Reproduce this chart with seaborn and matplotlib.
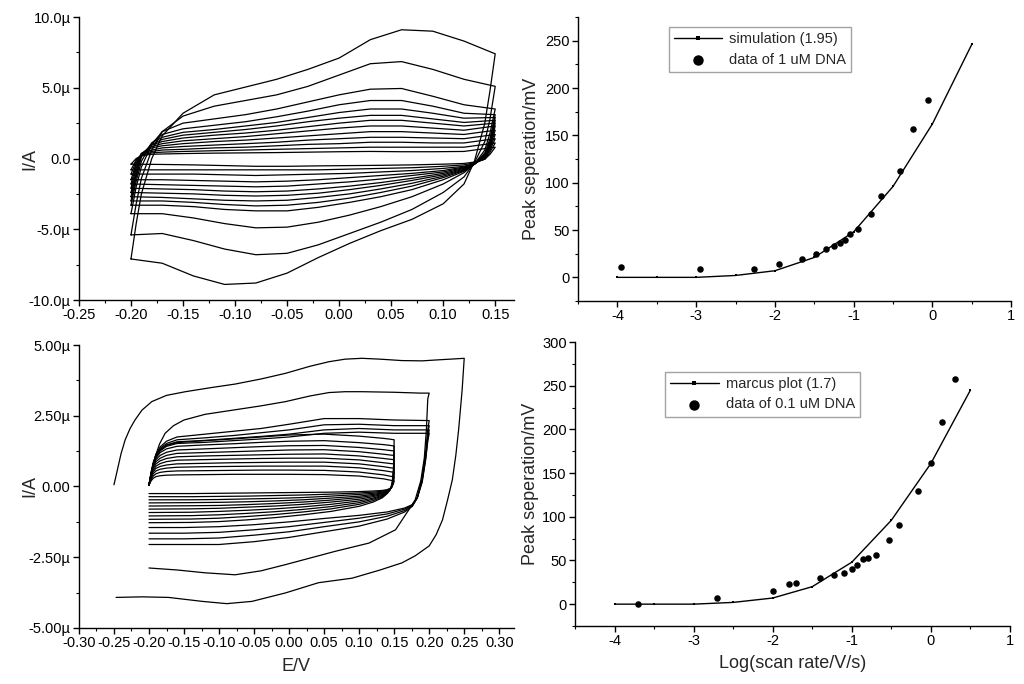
import pandas as pd
import seaborn as sns
import matplotlib.pyplot as plt
from matplotlib.ticker import MultipleLocator, FuncFormatter

sns.set_theme(style="ticks")
plt.rcParams['font.family'] = ['Liberation Sans', 'DejaVu Sans']
plt.rcParams['axes.unicode_minus'] = False

# ---------------- top-left CVs (uA) ----------------
tl_e_fwd = [-0.200, -0.195, -0.190, -0.180, -0.170, -0.150, -0.120, -0.090,
            -0.060, -0.030, 0.000, 0.030, 0.060, 0.090, 0.120, 0.150]
tl_e_rev = [0.150, 0.145, 0.140, 0.130, 0.120, 0.100, 0.070, 0.040,
            0.010, -0.020, -0.050, -0.080, -0.110, -0.140, -0.170, -0.200]
tl_i_fwd = [
    [-7.1, -4.6, -2.5, 0.0, 1.6, 3.2, 4.5, 5.05, 5.6, 6.3, 7.1, 8.4, 9.1, 9.0, 8.3, 7.4],
    [-5.4, -3.2, -1.4, 0.6, 1.9, 3.0, 3.7, 4.1, 4.5, 5.1, 5.9, 6.7, 6.85, 6.3, 5.6, 5.1],
    [-3.9, -2.0, -0.6, 1.0, 1.9, 2.5, 2.8, 3.1, 3.5, 4.0, 4.5, 4.9, 4.95, 4.4, 3.8, 3.5],
    [-3.3, -1.6, -0.2, 1.1, 1.7, 2.1, 2.35, 2.6, 2.95, 3.35, 3.8, 4.1, 4.1, 3.7, 3.2, 3.1],
    [-3.0, -1.3, 0.1, 1.1, 1.5, 1.85, 2.05, 2.3, 2.55, 2.9, 3.25, 3.5, 3.5, 3.2, 2.85, 2.9],
    [-2.7, -1.1, 0.2, 1.0, 1.35, 1.65, 1.85, 2.05, 2.3, 2.6, 2.85, 3.05, 3.05, 2.8, 2.55, 2.7],
    [-2.4, -0.9, 0.3, 0.95, 1.2, 1.45, 1.65, 1.8, 2.0, 2.25, 2.5, 2.7, 2.7, 2.5, 2.3, 2.5],
    [-2.1, -0.7, 0.35, 0.85, 1.05, 1.25, 1.4, 1.55, 1.75, 1.95, 2.15, 2.3, 2.3, 2.15, 2.0, 2.3],
    [-1.8, -0.5, 0.35, 0.75, 0.9, 1.05, 1.2, 1.3, 1.45, 1.6, 1.75, 1.9, 1.9, 1.8, 1.7, 2.0],
    [-1.5, -0.35, 0.35, 0.6, 0.75, 0.85, 0.95, 1.05, 1.15, 1.3, 1.4, 1.5, 1.5, 1.45, 1.4, 1.7],
    [-1.1, -0.2, 0.3, 0.5, 0.6, 0.65, 0.75, 0.8, 0.9, 1.0, 1.05, 1.15, 1.15, 1.1, 1.1, 1.4],
    [-0.8, -0.1, 0.25, 0.4, 0.45, 0.5, 0.55, 0.6, 0.65, 0.7, 0.75, 0.8, 0.8, 0.8, 0.8, 1.1],
    [-0.4, 0.0, 0.2, 0.3, 0.32, 0.35, 0.38, 0.4, 0.42, 0.45, 0.48, 0.5, 0.48, 0.48, 0.5, 0.8],
]
tl_i_rev = [
    [7.4, 4.8, 2.5, -0.2, -1.8, -3.2, -4.3, -5.1, -6.0, -7.0, -8.1, -8.8, -8.9, -8.3, -7.4, -7.1],
    [5.1, 2.8, 1.2, -0.3, -1.3, -2.4, -3.6, -4.5, -5.3, -6.1, -6.7, -6.8, -6.4, -5.8, -5.3, -5.4],
    [3.5, 1.8, 0.6, -0.4, -1.0, -1.8, -2.7, -3.4, -4.0, -4.5, -4.85, -4.9, -4.6, -4.2, -3.9, -3.9],
    [3.1, 1.4, 0.4, -0.4, -0.9, -1.5, -2.2, -2.7, -3.1, -3.45, -3.7, -3.7, -3.6, -3.4, -3.3, -3.3],
    [2.9, 1.2, 0.3, -0.4, -0.85, -1.35, -1.95, -2.4, -2.8, -3.1, -3.3, -3.35, -3.25, -3.1, -3.0, -3.0],
    [2.7, 1.1, 0.25, -0.4, -0.8, -1.25, -1.75, -2.15, -2.5, -2.75, -2.95, -3.0, -2.95, -2.85, -2.75, -2.7],
    [2.5, 1.0, 0.2, -0.4, -0.75, -1.15, -1.55, -1.9, -2.2, -2.45, -2.6, -2.65, -2.6, -2.5, -2.45, -2.4],
    [2.3, 0.9, 0.15, -0.4, -0.7, -1.05, -1.4, -1.7, -1.95, -2.15, -2.3, -2.35, -2.3, -2.2, -2.15, -2.1],
    [2.0, 0.8, 0.1, -0.4, -0.65, -0.95, -1.2, -1.45, -1.65, -1.8, -1.95, -2.0, -1.95, -1.9, -1.85, -1.8],
    [1.7, 0.7, 0.05, -0.35, -0.6, -0.85, -1.05, -1.2, -1.35, -1.5, -1.6, -1.65, -1.6, -1.55, -1.5, -1.5],
    [1.4, 0.6, 0.0, -0.35, -0.55, -0.7, -0.85, -0.95, -1.05, -1.1, -1.15, -1.2, -1.15, -1.1, -1.1, -1.1],
    [1.1, 0.45, -0.05, -0.3, -0.45, -0.55, -0.65, -0.7, -0.75, -0.8, -0.8, -0.8, -0.8, -0.8, -0.8, -0.8],
    [0.8, 0.3, -0.05, -0.25, -0.35, -0.4, -0.45, -0.48, -0.5, -0.52, -0.55, -0.55, -0.5, -0.45, -0.42, -0.4],
]

# ---------------- bottom-left CVs (uA) ----------------
# widest window, -0.25..0.25 V
bl_big_e_fwd = [-0.250, -0.245, -0.240, -0.234, -0.227, -0.220, -0.210, -0.196, -0.175, -0.148,
                -0.110, -0.077, -0.040, -0.005, 0.030, 0.057, 0.080, 0.104, 0.130, 0.161,
                0.190, 0.209, 0.230, 0.250]
bl_big_i_fwd = [0.06, 0.6, 1.15, 1.65, 2.05, 2.35, 2.7, 3.0, 3.22, 3.35,
                3.5, 3.62, 3.8, 4.0, 4.25, 4.41, 4.5, 4.53, 4.5, 4.45,
                4.44, 4.47, 4.5, 4.53]
bl_big_e_rev = [0.250, 0.247, 0.242, 0.238, 0.233, 0.226, 0.219, 0.210, 0.200, 0.180, 0.161,
                0.130, 0.090, 0.042, -0.005, -0.053, -0.089, -0.124, -0.172, -0.210, -0.247]
bl_big_i_rev = [4.53, 3.4, 2.0, 1.1, 0.23, -0.5, -1.18, -1.7, -2.1, -2.45, -2.7,
                -2.95, -3.24, -3.4, -3.76, -4.06, -4.14, -4.06, -3.92, -3.9, -3.92]

# second window, -0.20..0.20 V, largest scan
bl_d2_e_fwd = [-0.200, -0.197, -0.194, -0.191, -0.185, -0.177, -0.165, -0.150, -0.120, -0.080,
               -0.040, -0.005, 0.030, 0.057, 0.080, 0.104, 0.150, 0.187, 0.200]
bl_d2_i_fwd = [0.06, 0.45, 0.8, 1.06, 1.5, 1.88, 2.15, 2.35, 2.55, 2.7,
               2.85, 3.0, 3.2, 3.32, 3.35, 3.35, 3.33, 3.3, 3.3]
bl_d2_e_rev = [0.200, 0.198, 0.196, 0.193, 0.188, 0.180, 0.171, 0.152, 0.114, 0.066,
               -0.005, -0.040, -0.077, -0.120, -0.160, -0.200]
bl_d2_i_rev = [3.3, 3.1, 2.0, 1.0, 0.2, -0.47, -0.82, -1.53, -2.0, -2.29,
               -2.76, -2.98, -3.12, -3.05, -2.95, -2.88]

# -0.20..0.20 V group
bl_g20_e_fwd = [-0.200, -0.197, -0.194, -0.190, -0.184, -0.175, -0.160, -0.120,
                -0.080, -0.040, 0.000, 0.050, 0.100, 0.150, 0.200]
bl_g20_i_fwd = [
    [0.05, 0.45, 0.8, 1.15, 1.4, 1.6, 1.75, 1.85, 1.95, 2.05, 2.2, 2.4, 2.4, 2.35, 2.33],
    [0.05, 0.45, 0.78, 1.1, 1.35, 1.52, 1.65, 1.72, 1.8, 1.9, 2.0, 2.18, 2.2, 2.15, 2.15],
    [0.05, 0.44, 0.76, 1.06, 1.3, 1.47, 1.58, 1.63, 1.7, 1.77, 1.85, 2.0, 2.05, 2.0, 2.0],
    [0.05, 0.43, 0.74, 1.03, 1.26, 1.42, 1.52, 1.56, 1.62, 1.68, 1.75, 1.88, 1.92, 1.88, 1.88],
]
bl_g20_e_rev = [0.200, 0.198, 0.195, 0.190, 0.183, 0.176, 0.165, 0.140,
                0.100, 0.050, 0.000, -0.050, -0.100, -0.150, -0.200]
bl_g20_i_rev = [
    [2.33, 2.0, 1.2, 0.3, -0.4, -0.7, -0.9, -1.15, -1.4, -1.6, -1.8, -1.95, -2.05, -2.05, -2.05],
    [2.15, 1.85, 1.1, 0.25, -0.4, -0.68, -0.85, -1.05, -1.25, -1.42, -1.6, -1.72, -1.82, -1.85, -1.85],
    [2.0, 1.7, 1.0, 0.2, -0.4, -0.66, -0.8, -0.97, -1.12, -1.27, -1.42, -1.53, -1.62, -1.65, -1.65],
    [1.88, 1.6, 0.95, 0.15, -0.4, -0.64, -0.76, -0.9, -1.02, -1.13, -1.25, -1.35, -1.42, -1.45, -1.45],
]

# -0.20..0.15 V group
bl_g15_e_fwd = [-0.200, -0.197, -0.194, -0.190, -0.184, -0.175, -0.160, -0.120,
                -0.080, -0.040, 0.000, 0.050, 0.100, 0.135, 0.145, 0.150]
bl_g15_i_fwd = [
    [0.05, 0.5, 0.85, 1.1, 1.3, 1.45, 1.55, 1.62, 1.68, 1.75, 1.82, 1.85, 1.78, 1.7, 1.67, 1.65],
    [0.05, 0.48, 0.8, 1.02, 1.2, 1.33, 1.42, 1.47, 1.51, 1.56, 1.6, 1.62, 1.55, 1.48, 1.45, 1.43],
    [0.05, 0.46, 0.75, 0.95, 1.1, 1.21, 1.29, 1.33, 1.37, 1.41, 1.44, 1.45, 1.38, 1.3, 1.27, 1.26],
    [0.05, 0.44, 0.7, 0.88, 1.0, 1.1, 1.17, 1.2, 1.23, 1.26, 1.29, 1.3, 1.23, 1.14, 1.11, 1.1],
    [0.05, 0.42, 0.65, 0.8, 0.91, 0.99, 1.05, 1.08, 1.1, 1.12, 1.14, 1.15, 1.08, 0.99, 0.96, 0.95],
    [0.05, 0.38, 0.58, 0.72, 0.81, 0.88, 0.93, 0.95, 0.97, 0.99, 1.0, 1.0, 0.94, 0.84, 0.81, 0.8],
    [0.05, 0.34, 0.52, 0.64, 0.71, 0.76, 0.8, 0.82, 0.84, 0.85, 0.86, 0.86, 0.8, 0.7, 0.66, 0.65],
    [0.05, 0.3, 0.45, 0.55, 0.61, 0.65, 0.68, 0.7, 0.71, 0.72, 0.72, 0.72, 0.66, 0.56, 0.52, 0.5],
    [0.05, 0.25, 0.37, 0.45, 0.5, 0.53, 0.55, 0.56, 0.57, 0.58, 0.58, 0.57, 0.51, 0.41, 0.36, 0.34],
    [0.05, 0.2, 0.29, 0.35, 0.38, 0.4, 0.41, 0.42, 0.43, 0.43, 0.43, 0.42, 0.37, 0.27, 0.22, 0.2],
]
bl_g15_e_rev = [0.150, 0.149, 0.147, 0.144, 0.140, 0.133, 0.120, 0.100,
                0.060, 0.020, -0.020, -0.060, -0.100, -0.140, -0.200]
bl_g15_i_rev = [
    [1.65, 0.6, 0.1, -0.12, -0.25, -0.4, -0.55, -0.7, -0.88, -1.0, -1.1, -1.18, -1.24, -1.27, -1.28],
    [1.43, 0.5, 0.05, -0.12, -0.24, -0.37, -0.5, -0.63, -0.79, -0.9, -0.99, -1.06, -1.12, -1.15, -1.16],
    [1.26, 0.45, 0.03, -0.12, -0.23, -0.34, -0.45, -0.57, -0.71, -0.81, -0.89, -0.95, -1.0, -1.03, -1.04],
    [1.1, 0.4, 0.02, -0.11, -0.21, -0.31, -0.41, -0.51, -0.63, -0.72, -0.79, -0.84, -0.88, -0.91, -0.92],
    [0.95, 0.35, 0.0, -0.11, -0.2, -0.28, -0.36, -0.45, -0.55, -0.63, -0.69, -0.73, -0.77, -0.79, -0.8],
    [0.8, 0.3, 0.0, -0.1, -0.18, -0.25, -0.32, -0.39, -0.48, -0.55, -0.6, -0.64, -0.67, -0.68, -0.69],
    [0.65, 0.25, 0.0, -0.1, -0.17, -0.23, -0.28, -0.34, -0.41, -0.47, -0.51, -0.54, -0.56, -0.57, -0.58],
    [0.5, 0.2, 0.0, -0.09, -0.15, -0.2, -0.24, -0.28, -0.34, -0.39, -0.42, -0.44, -0.46, -0.47, -0.47],
    [0.34, 0.15, 0.0, -0.08, -0.13, -0.17, -0.2, -0.23, -0.27, -0.3, -0.32, -0.34, -0.35, -0.36, -0.36],
    [0.2, 0.1, 0.0, -0.07, -0.11, -0.14, -0.16, -0.18, -0.2, -0.21, -0.22, -0.23, -0.24, -0.25, -0.25],
]

# ---------------- peak separation ----------------
sim_logv = [-4.0, -3.5, -3.0, -2.5, -2.0, -1.5, -1.0, -0.5, 0.0, 0.5]
sim1_dep = [0, 0, 0, 2, 7, 21, 48, 96, 162, 246]
sim2_dep = [0, 0, 0, 2, 7, 20, 48, 96, 161, 245]

data1_logv = [-3.96, -2.95, -2.26, -1.95, -1.65, -1.48, -1.35, -1.25, -1.17, -1.11,
              -1.05, -0.95, -0.78, -0.65, -0.41, -0.25, -0.05]
data1_dep = [10.6, 8.5, 8.5, 14.5, 19.0, 24.3, 30.0, 33.5, 36.3, 39.8,
             45.5, 51.5, 66.6, 86.0, 112.5, 156.6, 187.2]

data2_logv = [-3.70, -2.70, -2.00, -1.80, -1.71, -1.40, -1.23, -1.10, -1.00, -0.93,
              -0.86, -0.80, -0.70, -0.53, -0.40, -0.16, 0.00, 0.14, 0.30]
data2_dep = [0.0, 7.6, 14.5, 23.3, 23.7, 29.4, 33.2, 35.2, 40.1, 44.3,
             52.0, 52.7, 55.8, 73.4, 90.2, 129.9, 161.3, 207.9, 257.5]


def cv_frame(segments):
    rows = []
    for n, (e, i) in enumerate(segments):
        for k in range(len(e)):
            rows.append({"E": e[k], "I": i[k], "cycle": n, "order": k})
    return pd.DataFrame(rows)


def style_axis(ax):
    sns.despine(ax=ax)
    for s in ax.spines.values():
        s.set_linewidth(1.0)
        s.set_color("black")
    ax.tick_params(which="major", direction="out", length=4.5, width=1.0,
                   labelsize=10.5, colors="black", pad=1.5)
    ax.tick_params(which="minor", direction="out", length=2.5, width=0.8, colors="black")
    ax.set_facecolor("white")


def fmt_x(v, pos):
    if abs(v) < 1e-9:
        return "0.00"
    return f"{v:.2f}"


fig = plt.figure(figsize=(10.24, 6.84), dpi=100)
fig.patch.set_facecolor("white")

ax_tl = fig.add_axes([0.0771, 0.5614, 0.4248, 0.4137])
ax_bl = fig.add_axes([0.0771, 0.0819, 0.4248, 0.4137])
ax_tr = fig.add_axes([0.5645, 0.5599, 0.4229, 0.4152])
ax_br = fig.add_axes([0.5615, 0.0848, 0.4248, 0.4152])

# top-left
tl_segments = [(tl_e_fwd + tl_e_rev, tl_i_fwd[k] + tl_i_rev[k]) for k in range(len(tl_i_fwd))]
df_tl = cv_frame(tl_segments)
sns.lineplot(data=df_tl, x="E", y="I", units="cycle", estimator=None, sort=False,
             color="black", lw=0.9, ax=ax_tl, legend=False)
ax_tl.set_xlim(-0.25, 0.168)
ax_tl.set_ylim(-10, 10)
ax_tl.xaxis.set_major_locator(MultipleLocator(0.05))
ax_tl.xaxis.set_minor_locator(MultipleLocator(0.025))
ax_tl.yaxis.set_major_locator(MultipleLocator(5))
ax_tl.yaxis.set_minor_locator(MultipleLocator(2.5))
ax_tl.xaxis.set_major_formatter(FuncFormatter(fmt_x))
ax_tl.yaxis.set_major_formatter(FuncFormatter(lambda v, p: "0.0" if abs(v) < 1e-9 else f"{v:.1f}\u00b5"))
ax_tl.set_xlabel("")
ax_tl.set_ylabel("I/A", fontsize=13)
ax_tl.yaxis.set_label_coords(-0.094, 0.5)
style_axis(ax_tl)

# bottom-left
bl_segments = [(bl_big_e_fwd + bl_big_e_rev, bl_big_i_fwd + bl_big_i_rev),
               (bl_d2_e_fwd + bl_d2_e_rev, bl_d2_i_fwd + bl_d2_i_rev)]
bl_segments += [(bl_g20_e_fwd + bl_g20_e_rev, bl_g20_i_fwd[k] + bl_g20_i_rev[k])
                for k in range(len(bl_g20_i_fwd))]
bl_segments += [(bl_g15_e_fwd + bl_g15_e_rev, bl_g15_i_fwd[k] + bl_g15_i_rev[k])
                for k in range(len(bl_g15_i_fwd))]
df_bl = cv_frame(bl_segments)
sns.lineplot(data=df_bl, x="E", y="I", units="cycle", estimator=None, sort=False,
             color="black", lw=0.9, ax=ax_bl, legend=False)
ax_bl.set_xlim(-0.30, 0.321)
ax_bl.set_ylim(-5, 5)
ax_bl.xaxis.set_major_locator(MultipleLocator(0.05))
ax_bl.xaxis.set_minor_locator(MultipleLocator(0.025))
ax_bl.yaxis.set_major_locator(MultipleLocator(2.5))
ax_bl.yaxis.set_minor_locator(MultipleLocator(1.25))
ax_bl.xaxis.set_major_formatter(FuncFormatter(fmt_x))
ax_bl.yaxis.set_major_formatter(FuncFormatter(lambda v, p: "0.00" if abs(v) < 1e-9 else f"{v:.2f}\u00b5"))
ax_bl.set_xlabel("E/V", fontsize=13)
ax_bl.set_ylabel("I/A", fontsize=13)
ax_bl.yaxis.set_label_coords(-0.094, 0.5)
ax_bl.xaxis.set_label_coords(0.5, -0.106)
style_axis(ax_bl)


def peak_panel(ax, sim_y, sim_label, dx, dy, data_label, top, leg_anchor):
    sns.lineplot(x=sim_logv, y=sim_y, ax=ax, color="black", lw=1.0, marker="s",
                 markersize=1.6, markeredgewidth=0, label=sim_label, sort=False)
    sns.scatterplot(x=dx, y=dy, ax=ax, color="black", s=22, edgecolor="black",
                    linewidth=0, label=data_label)
    ax.set_xlim(-4.5, 1.0)
    ax.set_ylim(-25, top)
    ax.xaxis.set_major_locator(MultipleLocator(1))
    ax.xaxis.set_minor_locator(MultipleLocator(0.5))
    ax.yaxis.set_major_locator(MultipleLocator(50))
    ax.yaxis.set_minor_locator(MultipleLocator(25))
    ax.xaxis.set_major_formatter(FuncFormatter(lambda v, p: f"{v:.0f}" if abs(v) > 1e-9 else "0"))
    ax.set_ylabel("Peak seperation/mV", fontsize=13)
    leg = ax.legend(loc="upper left", bbox_to_anchor=leg_anchor, frameon=True,
                    fancybox=False, fontsize=10.5, handlelength=3.3, handletextpad=0.5,
                    borderpad=0.35, labelspacing=0.45, markerscale=1.6, borderaxespad=0)
    leg.get_frame().set_edgecolor("0.55")
    leg.get_frame().set_linewidth(1.0)
    style_axis(ax)


peak_panel(ax_tr, sim1_dep, "simulation (1.95)", data1_logv, data1_dep,
           "data of 1 uM DNA", 275, (0.209, 0.964))
ax_tr.set_xlabel("")
ax_tr.yaxis.set_label_coords(-0.088, 0.5)

peak_panel(ax_br, sim2_dep, "marcus plot (1.7)", data2_logv, data2_dep,
           "data of 0.1 uM DNA", 300, (0.2076, 0.895))
ax_br.set_xlabel("Log(scan rate/V/s)", fontsize=13)
ax_br.yaxis.set_label_coords(-0.083, 0.5)
ax_br.xaxis.set_label_coords(0.5, -0.102)

fig.savefig("out.png", dpi=100, facecolor="white")
